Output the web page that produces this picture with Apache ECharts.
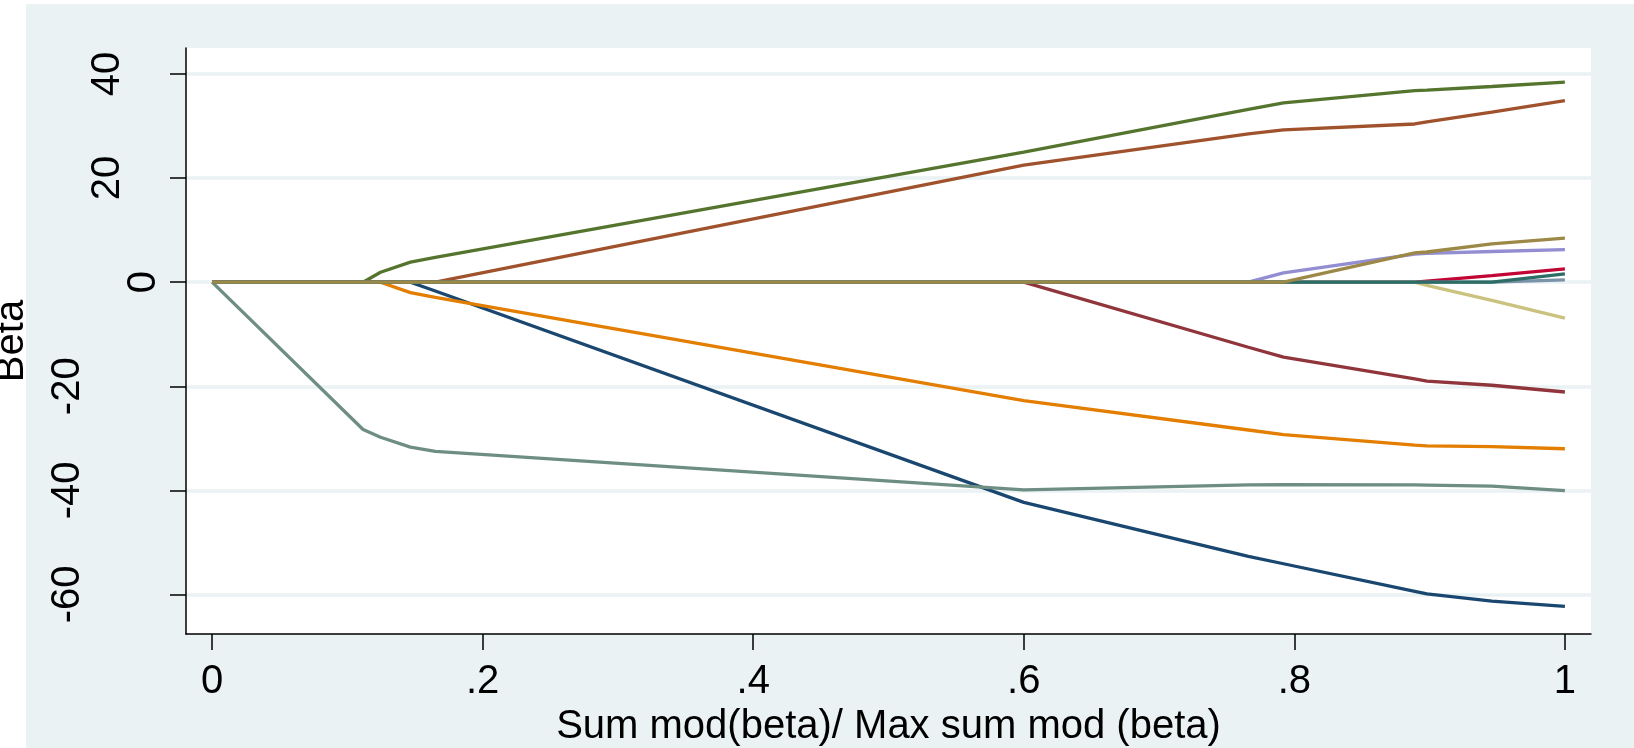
<!DOCTYPE html>
<html>
<head>
<meta charset="utf-8">
<script src="https://cdn.jsdelivr.net/npm/echarts@6/dist/echarts.min.js"></script>
<style>
html,body{margin:0;padding:0;background:#ffffff;}
#chart{width:1634px;height:748px;}
</style>
</head>
<body>
<div id="chart"></div>
<script>
// Knots of the path (x = Sum mod(beta)/ Max sum mod (beta))
const xKnots = [0, 0.1116, 0.1245, 0.1466, 0.165, 0.6, 0.766, 0.792, 0.889, 0.898, 0.946, 1];

const navy      = [0, 0, 0, 0, -1.7, -42.3, -52.7, -54.1, -59.4, -59.9, -61.3, -62.3];
const maroon    = [0, 0, 0, 0, 0, 0, -12.5, -14.4, -18.6, -19.0, -19.8, -21.1];
const forest    = [0, 0, 1.9, 3.85, 4.75, 25.0, 33.2, 34.45, 36.8, 36.9, 37.6, 38.45];
const dkorange  = [0, 0, 0, -2.0, -2.9, -22.75, -28.4, -29.3, -31.3, -31.45, -31.6, -32.0];
const teal      = [0, -28.3, -29.8, -31.7, -32.5, -39.9, -38.96, -38.9, -38.96, -39.0, -39.2, -40.05];
const cranberry = [0, 0, 0, 0, 0, 0, 0, 0, 0, 0.2, 1.25, 2.56];
const lavender  = [0, 0, 0, 0, 0, 0, 0, 1.8, 5.4, 5.55, 5.9, 6.27];
const khaki     = [0, 0, 0, 0, 0, 0, 0, 0, 0, -0.6, -3.5, -6.9];
const sienna    = [0, 0, 0, 0, 0, 22.5, 28.5, 29.27, 30.4, 30.8, 32.7, 34.9];
const emidblue  = [0, 0, 0, 0, 0, 0, 0, 0, 0, 0, 0, 0.44];
const emerald   = [0, 0, 0, 0, 0, 0, 0, 0, 0, 0, 0, 1.6];
const brown     = [0, 0, 0, 0, 0, 0, 0, 0, 5.63, 5.8, 7.36, 8.46];

const xTickValues = [0, 0.2, 0.4, 0.6, 0.8, 1];
const xTickLabels = ['0', '.2', '.4', '.6', '.8', '1'];
const yTickValues = [-60, -40, -20, 0, 20, 40];
const yTickLabels = ['-60', '-40', '-20', '0', '20', '40'];

const seriesDefs = [
  ['navy', navy, '#1A476F'],
  ['maroon', maroon, '#90353B'],
  ['forest_green', forest, '#55752F'],
  ['dkorange', dkorange, '#E37E00'],
  ['teal', teal, '#6E8E84'],
  ['cranberry', cranberry, '#C10534'],
  ['lavender', lavender, '#938DD2'],
  ['khaki', khaki, '#CAC27E'],
  ['sienna', sienna, '#A0522D'],
  ['emidblue', emidblue, '#7B92A8'],
  ['emerald', emerald, '#2D6D66'],
  ['brown', brown, '#9C8847']
];

const FONT = "'Liberation Sans', Arial, Helvetica, sans-serif";

const chart = echarts.init(document.getElementById('chart'), null, {renderer: 'canvas'});

function yLabelStyle(lbl) {
  return lbl.length === 1 ? 'a' : (lbl.length === 2 ? 'b' : 'c');
}

chart.setOption({
  animation: false,
  backgroundColor: '#ffffff',
  graphic: [{
    type: 'rect', z: -10, silent: true,
    shape: {x: 26, y: 4, width: 1608, height: 744},
    style: {fill: '#EAF2F3'}
  }],
  grid: {
    left: 186, right: 43, top: 48, bottom: 114,
    containLabel: false,
    outerBoundsMode: 'none',
    show: true, backgroundColor: '#ffffff', borderWidth: 0
  },
  xAxis: {
    type: 'value',
    min: -0.0193, max: 1.0193,
    name: 'Sum mod(beta)/ Max sum mod (beta)',
    nameLocation: 'middle',
    nameGap: 70,
    nameTextStyle: {fontSize: 40, color: '#000', fontFamily: FONT},
    axisLine: {onZero: false, lineStyle: {color: '#000', width: 1.5}},
    axisTick: {show: true, length: 16, lineStyle: {color: '#000', width: 1.5}, customValues: xTickValues},
    axisLabel: {
      customValues: xTickValues,
      margin: 28,
      fontSize: 40, color: '#000', fontFamily: FONT,
      formatter: function (v) {
        const i = xTickValues.findIndex(t => Math.abs(t - v) < 1e-9);
        return i >= 0 ? xTickLabels[i] : '';
      }
    },
    splitLine: {show: false}
  },
  yAxis: {
    type: 'value',
    min: -67.6, max: 45.0,
    name: 'Beta',
    nameLocation: 'middle',
    nameRotate: 90,
    nameGap: 154,
    nameTextStyle: {fontSize: 40, color: '#000', fontFamily: FONT},
    axisLine: {onZero: false, lineStyle: {color: '#000', width: 1.5}},
    axisTick: {show: true, length: 16, lineStyle: {color: '#000', width: 1.5}, customValues: yTickValues},
    axisLabel: {
      customValues: yTickValues,
      rotate: 90,
      margin: 6,
      fontSize: 40, color: '#000', fontFamily: FONT,
      formatter: function (v) {
        const i = yTickValues.findIndex(t => Math.abs(t - v) < 1e-9);
        if (i < 0) return '';
        const lbl = yTickLabels[i];
        return '{' + yLabelStyle(lbl) + '|' + lbl + '}';
      },
      rich: {
        a: {fontSize: 40, fontFamily: FONT, color: '#000', lineHeight: 72},
        b: {fontSize: 40, fontFamily: FONT, color: '#000', lineHeight: 144},
        c: {fontSize: 40, fontFamily: FONT, color: '#000', lineHeight: 224}
      }
    },
    splitLine: {show: true, lineStyle: {color: '#EAF2F3', width: 3.5}}
  },
  series: seriesDefs.map(function (d) {
    return {
      name: d[0],
      type: 'line',
      data: xKnots.map(function (x, i) { return [x, d[1][i]]; }),
      showSymbol: false,
      symbol: 'none',
      lineStyle: {color: d[2], width: 3.3},
      itemStyle: {color: d[2]},
      emphasis: {disabled: true}
    };
  })
});
</script>
</body>
</html>
